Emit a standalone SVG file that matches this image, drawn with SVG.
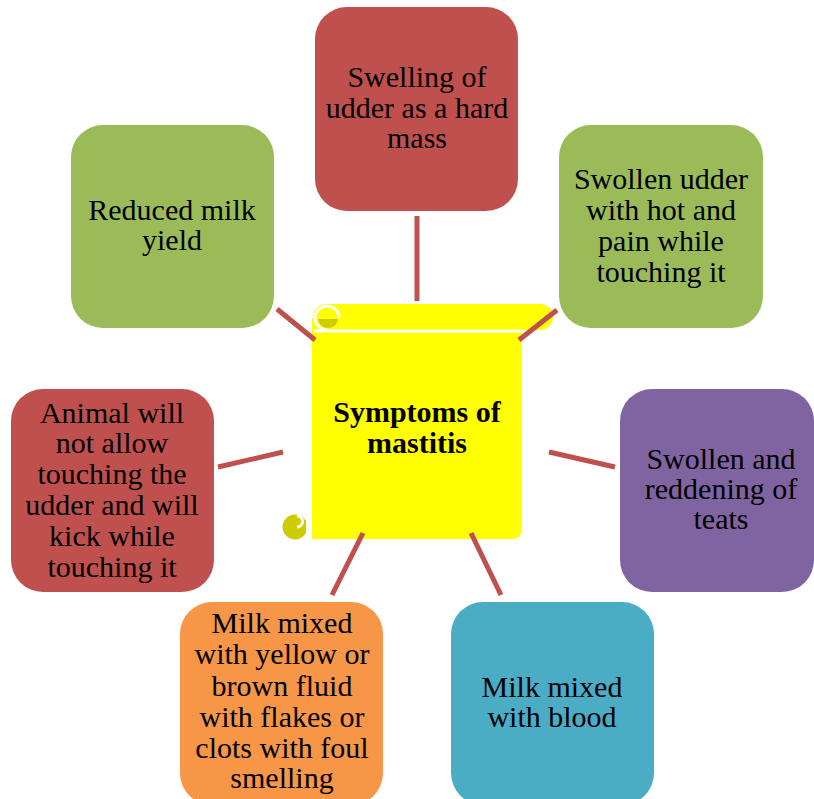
<svg xmlns="http://www.w3.org/2000/svg" width="814" height="799" viewBox="0 0 814 799">
<style>
.lbl{font-family:"Liberation Serif","Times New Roman",serif;font-size:30px;fill:#000;text-anchor:middle}
.ttl{font-family:"Liberation Serif","Times New Roman",serif;font-size:30px;font-weight:bold;fill:#000;text-anchor:middle}
.conn line{stroke:#C0504D;stroke-width:5}
</style>
<rect width="814" height="799" fill="#fff"/>
<g id="node-top">
<rect x="315" y="7" width="203" height="204" rx="32" fill="#C0504D"/>
<text class="lbl" x="417" y="87">Swelling of</text>
<text class="lbl" x="417" y="118">udder as a hard</text>
<text class="lbl" x="417" y="148">mass</text>
</g>
<g id="node-upper-left">
<rect x="71" y="125" width="203" height="203" rx="32" fill="#9BBB59"/>
<text class="lbl" x="172" y="220">Reduced milk</text>
<text class="lbl" x="172" y="250">yield</text>
</g>
<g id="node-upper-right">
<rect x="559" y="125" width="204" height="203" rx="32" fill="#9BBB59"/>
<text class="lbl" x="661" y="189">Swollen udder</text>
<text class="lbl" x="661" y="220">with hot and</text>
<text class="lbl" x="661" y="251">pain while</text>
<text class="lbl" x="661" y="282">touching it</text>
</g>
<g id="node-left">
<rect x="11" y="389" width="203" height="203" rx="32" fill="#C0504D"/>
<text class="lbl" x="112" y="423">Animal will</text>
<text class="lbl" x="112" y="453">not allow</text>
<text class="lbl" x="112" y="484">touching the</text>
<text class="lbl" x="112" y="515">udder and will</text>
<text class="lbl" x="112" y="546">kick while</text>
<text class="lbl" x="112" y="577">touching it</text>
</g>
<g id="node-right">
<rect x="620" y="389" width="194" height="203" rx="32" fill="#8064A2"/>
<text class="lbl" x="721" y="469">Swollen and</text>
<text class="lbl" x="721" y="499">reddening of</text>
<text class="lbl" x="721" y="529">teats</text>
</g>
<g id="node-bottom-left">
<rect x="180" y="602" width="203" height="203" rx="32" fill="#F79646"/>
<text class="lbl" x="282" y="633">Milk mixed</text>
<text class="lbl" x="282" y="664">with yellow or</text>
<text class="lbl" x="282" y="696">brown fluid</text>
<text class="lbl" x="282" y="727">with flakes or</text>
<text class="lbl" x="282" y="758">clots with foul</text>
<text class="lbl" x="282" y="788">smelling</text>
</g>
<g id="node-bottom-right">
<rect x="451" y="602" width="203" height="203" rx="32" fill="#4BACC6"/>
<text class="lbl" x="552" y="697">Milk mixed</text>
<text class="lbl" x="552" y="727">with blood</text>
</g>
<g id="node-center">
<path d="M312,318 L522,318 L522,529 Q522,539 512,539 L312,539 Z" fill="#FFFF00"/>
<rect x="313" y="304" width="240" height="26" rx="13" fill="#FFFF00"/>
<line x1="314" y1="331" x2="522" y2="331" stroke="#fff" stroke-width="3"/>
<path d="M318,319 A10,9 0 0 0 338,319 Z" fill="#CCCC00"/>
<path d="M327,330 A12,12 0 1 1 339,318" fill="none" stroke="#fff" stroke-width="3"/>
<circle cx="295" cy="527" r="12.5" fill="#CCCC00"/>
<path d="M297,516 A5.5,5.5 0 0 1 297,527" fill="none" stroke="#fff" stroke-width="3"/>
<line x1="307" y1="513" x2="307" y2="532" stroke="#fff" stroke-width="2"/>
<text class="ttl" x="417" y="422">Symptoms of</text>
<text class="ttl" x="417" y="453">mastitis</text>
</g>
<g id="connectors" class="conn">
<line x1="417" y1="216" x2="417" y2="301"/>
<line x1="277" y1="309" x2="315" y2="340"/>
<line x1="519" y1="340" x2="557" y2="310"/>
<line x1="218" y1="467" x2="283" y2="452"/>
<line x1="549" y1="452" x2="615" y2="467"/>
<line x1="363" y1="533" x2="332" y2="595"/>
<line x1="471" y1="533" x2="501" y2="595"/>
</g>
</svg>
